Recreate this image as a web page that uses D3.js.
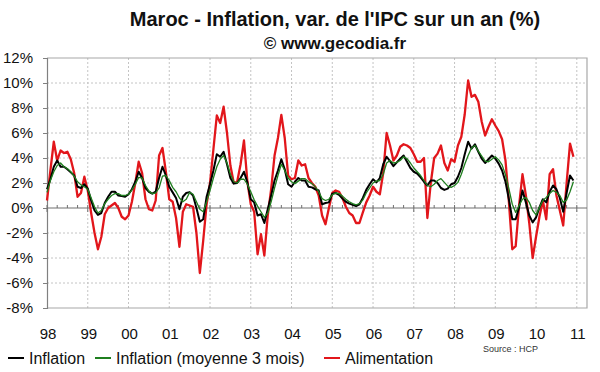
<!DOCTYPE html>
<html>
<head>
<meta charset="utf-8">
<script src="https://cdn.jsdelivr.net/npm/d3@7"></script>
<style>
  body { margin: 0; background: #fff; }
  svg { font-family: "Liberation Sans", Arial, sans-serif; }
</style>
</head>
<body>
<div id="chart"></div>
<script>
// monthly series, Jan 1998 -> Dec 2010 (values in %)
var startYear = 1998;

var inflation = [
  1.5, 2.3, 3.3, 3.8, 3.3, 3.3, 3.1, 2.85, 2.6, 1.7, 1.6, 1.9,
  1.55, 0.6, -0.2, -0.55, -0.4, 0.4, 0.9, 1.3, 1.3, 1.0, 0.95, 0.9,
  1.1, 1.5, 2.1, 2.9, 2.4, 1.6, 1.3, 1.15, 1.3, 2.4, 3.3, 2.6,
  1.7, 1.25, 0.8, -0.1, 0.9, 1.2, 1.27, 1.0, 0.0, -1.1, -0.9, 0.9,
  1.9, 3.0, 4.3, 4.1, 4.5, 3.5, 2.4, 1.95, 2.0, 2.4, 2.9, 2.05,
  0.7, 0.45, -0.6, -0.5, -1.2, -0.1, 1.0, 2.2, 3.0, 3.9, 3.1, 1.9,
  1.7, 2.1, 2.4, 2.2, 2.2, 1.7, 1.65, 1.5, 1.4, 0.3, 0.4, 0.45,
  1.15, 1.2, 1.05, 0.75, 0.5, 0.35, 0.25, 0.15, 0.3, 0.8, 1.45, 1.9,
  2.3, 2.05, 2.4, 3.5, 4.1, 3.75, 3.35, 3.65, 3.95, 4.2, 3.7, 3.2,
  2.9, 2.75, 2.45, 2.1, 1.8, 2.2, 2.2, 2.0, 1.6, 1.45, 1.55, 1.9,
  2.0, 2.5, 3.2, 4.3, 5.3, 4.75, 5.1, 4.5, 3.95, 3.6, 3.9, 4.2,
  3.95, 3.55, 3.0, 2.1, 0.7, -0.9, -0.9, 0.05, 1.4, 0.45, -0.6, -1.15,
  -0.75, 0.05, 0.7, 0.45, 1.3, 1.8, 1.5, 0.8, -0.3, 1.2, 2.6, 2.2
];

var inflationMoy3 = [
  1.25, 2.2, 2.9, 3.4, 3.6, 3.3, 3.15, 2.9, 2.55, 2.1, 1.85, 1.7,
  1.5, 0.8, 0.1, -0.4, -0.2, 0.35, 0.7, 1.0, 1.15, 1.15, 1.0, 1.0,
  1.1, 1.45, 1.9, 2.45, 2.4, 1.8, 1.35, 1.15, 1.2, 1.6, 2.55, 2.6,
  2.2, 1.65, 1.3, 0.8, 0.5, 0.7, 1.25, 1.1, 0.5, -0.1, -0.3, 0.5,
  1.4, 2.4, 3.3, 3.9, 4.2, 3.6, 2.7, 2.1, 2.0, 2.3, 2.3, 1.9,
  1.3, 0.65, 0.15, -0.3, -0.75, -0.4, 0.5, 1.6, 2.6, 3.5, 3.0, 2.4,
  2.1, 1.95, 2.15, 2.35, 2.35, 2.1, 1.95, 1.7, 1.3, 0.75, 0.6, 0.7,
  1.05, 1.2, 1.15, 0.95, 0.7, 0.5, 0.35, 0.25, 0.35, 0.65, 1.2, 1.6,
  2.0, 2.15, 2.2, 2.7, 3.6, 3.8, 3.6, 3.65, 3.8, 4.1, 3.95, 3.6,
  3.2, 2.9, 2.6, 2.2, 1.8, 1.7, 1.9, 2.2, 2.35, 2.05, 1.75, 1.65,
  1.8, 2.05, 2.7, 3.5, 4.2, 4.8, 5.0, 4.55, 4.15, 3.75, 3.7, 3.9,
  4.1, 3.85, 3.45, 2.65, 1.55, 0.3, -0.35, 0.2, 0.7, 0.85, 0.45, -0.2,
  -0.55, 0.05, 0.6, 0.85, 1.15, 1.4, 1.25, 1.0, 0.45, 0.65, 1.3, 2.1
];

var alimentation = [
  0.6, 3.0, 5.3, 3.8, 4.6, 4.4, 4.5, 3.9, 2.8, 0.9, 1.2, 2.5,
  1.4, -0.4, -2.0, -3.3, -2.3, -0.5, 0.0, 0.2, 0.4, 0.0, -0.7, -0.9,
  -0.6, 0.5, 2.0, 3.7, 2.8, 0.7, -0.1, -0.2, 0.6, 4.2, 4.8, 2.9,
  0.7, 0.5, -0.8, -3.1, -0.3, 0.3, 0.2, 0.1, -2.0, -5.2, -2.6, 0.3,
  2.0, 4.7, 7.4, 6.8, 8.1, 6.0, 3.4, 2.0, 2.1, 3.5, 5.4, 2.1,
  0.3, -0.3, -3.7, -2.1, -3.8, -0.6, 1.5, 4.2, 5.6, 7.45, 5.6, 2.6,
  2.3, 2.4, 3.8, 3.4, 3.5, 2.4, 2.0, 1.7, 1.0, -0.6, -1.3, 0.0,
  1.2, 1.4, 1.3, 0.8, 0.1, -0.4, -0.6, -1.2, -1.2, -0.35, 0.45, 1.0,
  1.7, 1.3, 1.1, 2.8, 6.0, 5.0, 3.8, 4.2, 4.9, 5.1, 5.0, 4.8,
  4.3, 3.7, 3.7, 4.0, -0.8, 2.0, 4.0, 4.35, 5.0, 3.6, 3.0, 3.9,
  3.7, 5.0, 5.7, 7.5, 10.2, 8.9, 9.05, 8.5, 6.9, 5.8, 6.5, 7.1,
  6.6, 6.15, 5.5, 3.8, 0.5, -3.3, -3.05, 0.2, 2.7, 1.0, -1.2, -4.0,
  -2.3, -0.7, 0.6, -0.9, 2.7, 3.1, 1.0, -0.2, -1.4, 2.0, 5.15, 4.1
];

var yTicks = [-8, -6, -4, -2, 0, 2, 4, 6, 8, 10, 12];
var yearLabels = ["98", "99", "00", "01", "02", "03", "04", "05", "06", "07", "08", "09", "10", "11"];

var svgWidth = 600;
var svgHeight = 372;

var svg = d3.select("#chart")
    .append("svg")
    .attr("width", svgWidth)
    .attr("height", svgHeight);

// scales: x in fractional years
var x = d3.scaleLinear()
    .domain([startYear, 2011.25])
    .range([47, 587]);

var y = d3.scaleLinear()
    .domain([-8, 12])
    .range([308, 58]);

var years = yearLabels.map((d, i) => startYear + i);

// dotted grid
svg.append("g")
    .selectAll("line")
    .data(yTicks.filter(d => d !== 0 && d !== -8 && d !== 12))
    .enter()
    .append("line")
    .attr("x1", x(startYear))
    .attr("x2", 587)
    .attr("y1", d => y(d))
    .attr("y2", d => y(d))
    .attr("stroke", "#c4c4c4")
    .attr("stroke-dasharray", "2,2");

svg.append("g")
    .selectAll("line")
    .data(years.slice(1))
    .enter()
    .append("line")
    .attr("x1", d => x(d))
    .attr("x2", d => x(d))
    .attr("y1", y(12))
    .attr("y2", y(-8))
    .attr("stroke", "#c4c4c4")
    .attr("stroke-dasharray", "2,2");

// plot frame (top, right, bottom)
svg.append("path")
    .attr("d", `M${x(startYear)},${y(12)}H587V${y(-8)}H${x(startYear)}`)
    .attr("fill", "none")
    .attr("stroke", "#a8a8a8")
    .attr("stroke-width", 1.2);

// left axis
var leftAxis = d3.axisLeft(y)
    .tickValues(yTicks)
    .tickSize(4)
    .tickPadding(10)
    .tickFormat(d => d + "%");

var yAxis = svg.append("g")
    .attr("transform", `translate(${x(startYear)},0)`)
    .call(leftAxis);
yAxis.select(".domain").attr("stroke", "#808080").attr("stroke-width", 1.2);
yAxis.selectAll(".tick line").attr("stroke", "#808080");
yAxis.selectAll("text")
    .attr("font-size", 15)
    .attr("fill", "#111");

// zero line with quarterly ticks
svg.append("line")
    .attr("x1", x(startYear))
    .attr("x2", 587)
    .attr("y1", y(0))
    .attr("y2", y(0))
    .attr("stroke", "#707070")
    .attr("stroke-width", 1.2);

var quarters = d3.range(startYear, 2011.01, 0.25);
svg.append("g")
    .selectAll("line")
    .data(quarters)
    .enter()
    .append("line")
    .attr("x1", d => x(d))
    .attr("x2", d => x(d))
    .attr("y1", y(0) - 3)
    .attr("y2", d => Number.isInteger(d) ? y(0) + 4 : y(0))
    .attr("stroke", "#707070");

// year labels at the bottom
svg.append("g")
    .selectAll("text")
    .data(yearLabels)
    .enter()
    .append("text")
    .attr("x", (d, i) => x(years[i]) + 1)
    .attr("y", 339)
    .attr("text-anchor", "middle")
    .attr("font-size", 15)
    .attr("fill", "#111")
    .text(d => d);

// series
var line = d3.line()
    .x((d, i) => x(startYear + i / 12))
    .y(d => y(d));

svg.append("path")
    .datum(alimentation)
    .attr("fill", "none")
    .attr("stroke", "#e2161b")
    .attr("stroke-width", 2.3)
    .attr("stroke-linejoin", "round")
    .attr("d", line);

svg.append("path")
    .datum(inflation)
    .attr("fill", "none")
    .attr("stroke", "#000")
    .attr("stroke-width", 2)
    .attr("stroke-linejoin", "round")
    .attr("d", line);

svg.append("path")
    .datum(inflationMoy3)
    .attr("fill", "none")
    .attr("stroke", "#1f7f1f")
    .attr("stroke-width", 1.3)
    .attr("stroke-linejoin", "round")
    .attr("d", line);

// titles
svg.append("text")
    .attr("x", 335)
    .attr("y", 26)
    .attr("text-anchor", "middle")
    .attr("font-size", 20)
    .attr("font-weight", "bold")
    .attr("fill", "#111")
    .text("Maroc - Inflation, var. de l'IPC sur un an (%)");

svg.append("text")
    .attr("x", 335)
    .attr("y", 49)
    .attr("text-anchor", "middle")
    .attr("font-size", 17)
    .attr("font-weight", "bold")
    .attr("fill", "#111")
    .text("\u00a9 www.gecodia.fr");

// legend
var legendItems = [
    {label: "Inflation", color: "#000", x: 8},
    {label: "Inflation (moyenne 3 mois)", color: "#1f7f1f", x: 95},
    {label: "Alimentation", color: "#e2161b", x: 324}
];

var legend = svg.append("g");
legendItems.forEach(function(item) {
    legend.append("line")
        .attr("x1", item.x)
        .attr("x2", item.x + 16)
        .attr("y1", 358)
        .attr("y2", 358)
        .attr("stroke", item.color)
        .attr("stroke-width", 2);
    legend.append("text")
        .attr("x", item.x + 21)
        .attr("y", 364)
        .attr("font-size", 16)
        .attr("fill", "#111")
        .text(item.label);
});

svg.append("text")
    .attr("x", 483)
    .attr("y", 352)
    .attr("font-size", 9)
    .attr("fill", "#333")
    .text("Source : HCP");
</script>
</body>
</html>
